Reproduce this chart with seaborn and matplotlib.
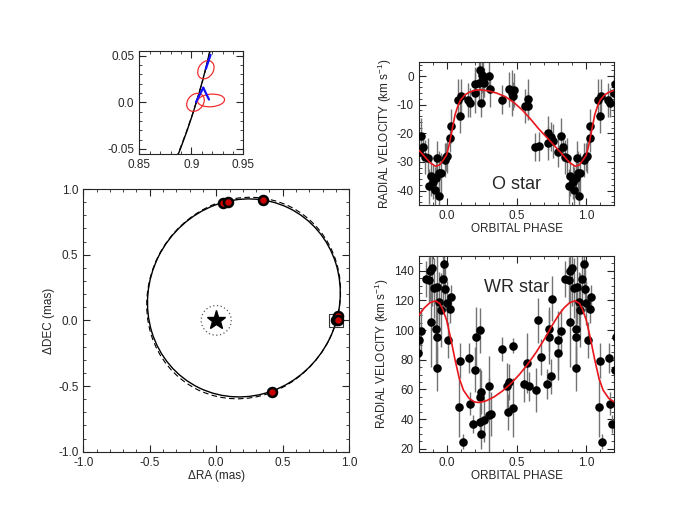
import numpy as np
import pandas as pd
import seaborn as sns
import matplotlib
matplotlib.use('Agg')
import matplotlib.pyplot as plt
from matplotlib.patches import Ellipse, Circle, Rectangle
from matplotlib.ticker import MultipleLocator

# astrometric positions of the companion (mas)
ast_ra = [0.048, 0.088, 0.349, 0.419, 0.904, 0.914, 0.919]
ast_dec = [0.89, 0.90, 0.92, -0.545, 0.0, 0.035, 0.002]

# visual orbit fits: centre x, centre y, major, minor, angle
orbit_solid = [0.208, 0.171, 1.526, 1.431, 63.8]
orbit_dashed = [0.206, 0.170, 1.558, 1.433, 63.8]
resolution_radius = 0.113

# zoomed box and error ellipses
box_ra = [0.85, 0.95]
box_dec = [-0.05, 0.05]
ell_ra = [0.914, 0.904, 0.919]
ell_dec = [0.035, 0.0, 0.002]
ell_w = [0.0205, 0.0205, 0.026]
ell_h = [0.0145, 0.0155, 0.0135]
ell_ang = [65, 60, 5]
res_ra0 = [0.9185, 0.9115, 0.9115]
res_dec0 = [0.051, 0.0157, 0.0157]
res_ra1 = [0.914, 0.9045, 0.917]
res_dec1 = [0.036, 0.0003, 0.003]

# O star radial velocities (phase, km/s, error)
o_phase = [0.815, 0.83, 0.844, 0.863, 0.874, 0.886, 0.905, 0.915, 0.924, 0.934,
           0.943, 0.948, 0.957, 0.986, 0.995, 0.005, 0.024, 0.028, 0.08, 0.095,
           0.104, 0.154, 0.17, 0.2, 0.204, 0.232, 0.24, 0.246, 0.251, 0.26,
           0.27, 0.3, 0.313, 0.396, 0.443, 0.467, 0.479, 0.474, 0.562, 0.585,
           0.585, 0.635, 0.659, 0.727, 0.744, 0.727, 0.758, 0.8]
o_rv = [-20.8, -24.8, -28.2, -28.6, -38.5, -35.0, -37.0, -39.6, -35.5, -28.7,
        -34.0, -42.0, -33.8, -29.2, -28.2, -27.8, -21.6, -17.5, -8.2, -14.0,
        -7.0, -8.4, -9.3, -5.8, -2.9, -2.3, 2.0, -9.3, 0.2, -1.2,
        -2.3, 0.0, -4.7, -8.2, -4.7, -5.8, -4.9, -7.0, -10.5, -7.9,
        -10.5, -24.8, -24.5, -19.8, -21.2, -23.3, -22.7, -26.6]
o_err = [6, 5, 6, 7, 6, 7, 6, 8, 7, 6,
         8, 6, 7, 6, 5, 6, 5, 6, 7, 6,
         6, 6, 5, 7, 6, 8, 7, 5, 6, 7,
         5, 6, 6, 5, 6, 8, 6, 5, 6, 7,
         5, 5, 5, 6, 5, 6, 6, 5]
o_model_phase = [0.0, 0.02, 0.04, 0.06, 0.08, 0.10, 0.13, 0.16, 0.20, 0.24, 0.30,
                 0.36, 0.42, 0.48, 0.54, 0.60, 0.66, 0.72, 0.78, 0.84, 0.88,
                 0.92, 0.95, 0.98]
o_model_rv = [-27.5, -23.5, -18.5, -13.5, -10.5, -8.3, -6.6, -5.7, -5.0, -4.8, -5.2,
              -6.0, -7.2, -9.2, -11.8, -15.0, -18.5, -21.6, -24.8, -28.0, -30.2,
              -31.5, -31.0, -29.0]

# WR star radial velocities
wr_phase = [0.796, 0.8, 0.815, 0.85, 0.874, 0.882, 0.896, 0.886, 0.91, 0.924,
            0.929, 0.929, 0.934, 0.948, 0.957, 0.972, 0.981, 0.991, 0.0, 0.009,
            0.024, 0.033, 0.088, 0.095, 0.114, 0.159, 0.17, 0.185, 0.204, 0.209,
            0.237, 0.242, 0.246, 0.242, 0.246, 0.27, 0.3, 0.303, 0.318, 0.393,
            0.431, 0.445, 0.44, 0.474, 0.474, 0.555, 0.573, 0.588, 0.64, 0.652,
            0.678, 0.72, 0.73, 0.73, 0.749, 0.754]
wr_rv = [84.6, 93.2, 99.5, 134.4, 134.1, 139.8, 141.6, 105.4, 128.5, 100.5,
         95.5, 74.2, 129.0, 119.0, 113.3, 134.4, 144.3, 128.0, 118.3, 93.2,
         114.5, 122.4, 48.0, 79.4, 24.7, 81.2, 50.5, 36.5, 73.3, 95.5,
         99.8, 54.6, 58.4, 38.1, 29.7, 39.4, 62.5, 42.6, 43.5, 87.3,
         62.5, 65.2, 44.9, 47.8, 89.6, 63.4, 77.9, 62.0, 59.8, 106.6,
         81.7, 63.8, 95.3, 100.9, 68.8, 121.2]
wr_err = [18, 20, 15, 12, 15, 20, 25, 30, 20, 25,
          20, 15, 25, 20, 25, 20, 20, 15, 15, 12,
          10, 8, 20, 12, 5, 10, 8, 6, 15, 20,
          15, 20, 15, 10, 10, 15, 20, 25, 15, 8,
          15, 12, 12, 20, 5, 12, 20, 10, 15, 15,
          12, 10, 18, 15, 12, 15]
wr_model_phase = [0.0, 0.03, 0.06, 0.09, 0.12, 0.16, 0.20, 0.23, 0.28, 0.34, 0.40,
                  0.46, 0.52, 0.58, 0.64, 0.70, 0.76, 0.80, 0.84, 0.88, 0.92,
                  0.95, 0.97]
wr_model_rv = [106.6, 94.0, 80.0, 67.5, 59.5, 54.0, 51.5, 51.2, 52.2, 55.0, 59.0,
               64.0, 70.0, 77.0, 85.0, 94.0, 104.0, 110.0, 115.0, 118.5, 119.8,
               118.0, 114.5]

PHASE_LIM = (-0.2, 1.2)


def tile(phase, values, extra=None):
    # repeat one cycle at phase-1, phase, phase+1 so the plot covers -0.2..1.2
    frames = []
    for shift in (-1, 0, 1):
        d = pd.DataFrame({"phase": np.array(phase) + shift, "rv": values})
        if extra is not None:
            d["err"] = extra
        frames.append(d)
    df = pd.concat(frames, ignore_index=True)
    return df[(df.phase >= PHASE_LIM[0] - 0.05) & (df.phase <= PHASE_LIM[1] + 0.05)]


def style_axis(ax):
    ax.tick_params(which="both", direction="in", top=True, right=True, labelsize=8.5)
    ax.tick_params(which="major", length=5, width=0.8)
    ax.tick_params(which="minor", length=2.5, width=0.6)
    for s in ax.spines.values():
        s.set_linewidth(0.8)
        s.set_color("0.15")


def rv_panel(ax, df_obs, df_mod, ylim, ymajor, yminor, label, label_y):
    ax.errorbar(df_obs.phase, df_obs.rv, yerr=df_obs.err, fmt="none",
                ecolor="0.45", elinewidth=1.0, capsize=0, zorder=1)
    sns.scatterplot(data=df_obs, x="phase", y="rv", ax=ax, color="black",
                    s=38, edgecolor="black", linewidth=0, zorder=3)
    sns.lineplot(data=df_mod.sort_values("phase"), x="phase", y="rv", ax=ax,
                 color="#e8151b", lw=1.2, sort=False, estimator=None, zorder=4)
    ax.set_xlim(*PHASE_LIM)
    ax.set_ylim(*ylim)
    ax.xaxis.set_minor_locator(MultipleLocator(0.1))
    ax.yaxis.set_major_locator(MultipleLocator(ymajor))
    ax.yaxis.set_minor_locator(MultipleLocator(yminor))
    ax.set_xticks([0.0, 0.5, 1.0], ["0.0", "0.5", "1.0"])
    ax.set_xlabel("ORBITAL PHASE", fontsize=8.5, labelpad=1)
    ax.set_ylabel("RADIAL VELOCITY (km s$^{\\mathregular{-1}}$)", fontsize=8.5, labelpad=2)
    ax.text(0.5, label_y, label, ha="center", va="center", fontsize=13)
    style_axis(ax)


def orbit_patches(ax, lw):
    cx, cy, w, h, a = orbit_solid
    ax.add_patch(Ellipse((cx, cy), w, h, angle=a, fill=False, color="black", lw=lw))
    cx, cy, w, h, a = orbit_dashed
    ax.add_patch(Ellipse((cx, cy), w, h, angle=a, fill=False, color="black",
                         lw=lw * 0.8, ls=(0, (5, 3))))


def main():
    sns.set_style("ticks")
    plt.rcParams["font.family"] = ["Liberation Sans", "DejaVu Sans"]
    plt.rcParams["mathtext.fontset"] = "custom"
    plt.rcParams["mathtext.rm"] = "Liberation Sans"
    plt.rcParams["axes.unicode_minus"] = False

    fig = plt.figure(figsize=(6.98, 5.14), dpi=100)
    ax_orb = fig.add_axes([0.1193, 0.1212, 0.381, 0.511])
    ax_ins = fig.add_axes([0.1996, 0.7004, 0.149, 0.201])
    ax_o = fig.add_axes([0.5999, 0.6012, 0.2802, 0.2788])
    ax_wr = fig.add_axes([0.5999, 0.1212, 0.2802, 0.3807])

    # main orbit
    orbit_patches(ax_orb, 1.0)
    ax_orb.add_patch(Circle((0, 0), resolution_radius, fill=False, color="0.35",
                            lw=0.9, ls=(0, (1, 2))))
    ax_orb.add_patch(Rectangle((box_ra[0], box_dec[0]), box_ra[1] - box_ra[0],
                               box_dec[1] - box_dec[0], fill=False, color="0.2", lw=0.8))
    ax_orb.plot([0], [0], marker="*", color="black", markersize=14, ls="none")
    ast = pd.DataFrame({"ra": ast_ra, "dec": ast_dec})
    sns.scatterplot(data=ast, x="ra", y="dec", ax=ax_orb, color="#c80000", s=42,
                    edgecolor="black", linewidth=1.8, zorder=5)
    ax_orb.set_xlim(-1.0, 1.0)
    ax_orb.set_ylim(-1.0, 1.0)
    ticks = [-1.0, -0.5, 0.0, 0.5, 1.0]
    labels = ["-1.0", "-0.5", "0.0", "0.5", "1.0"]
    ax_orb.set_xticks(ticks, labels)
    ax_orb.set_yticks(ticks, labels)
    ax_orb.xaxis.set_minor_locator(MultipleLocator(0.1))
    ax_orb.yaxis.set_minor_locator(MultipleLocator(0.1))
    ax_orb.set_xlabel("\u0394RA (mas)", fontsize=8.5, labelpad=1)
    ax_orb.set_ylabel("\u0394DEC (mas)", fontsize=8.5, labelpad=2)
    style_axis(ax_orb)

    # inset zoom on the square
    orbit_patches(ax_ins, 1.0)
    for x, y, w, h, a in zip(ell_ra, ell_dec, ell_w, ell_h, ell_ang):
        ax_ins.add_patch(Ellipse((x, y), w, h, angle=a, fill=False,
                                 color="#f03030", lw=0.9))
    for x0, y0, x1, y1 in zip(res_ra0, res_dec0, res_ra1, res_dec1):
        ax_ins.plot([x0, x1], [y0, y1], color="#1010ff", lw=1.6)
    ax_ins.set_xlim(0.85, 0.95)
    ax_ins.set_ylim(-0.0555, 0.0555)
    ax_ins.set_xticks([0.85, 0.9, 0.95], ["0.85", "0.9", "0.95"])
    ax_ins.set_yticks([-0.05, 0.0, 0.05], ["-0.05", "0.0", "0.05"])
    ax_ins.xaxis.set_minor_locator(MultipleLocator(0.01))
    ax_ins.yaxis.set_minor_locator(MultipleLocator(0.01))
    style_axis(ax_ins)

    # radial velocity curves
    rv_panel(ax_o, tile(o_phase, o_rv, o_err), tile(o_model_phase, o_model_rv),
             (-45, 5), 10, 2, "O star", -38)
    rv_panel(ax_wr, tile(wr_phase, wr_rv, wr_err), tile(wr_model_phase, wr_model_rv),
             (18, 150), 20, 5, "WR star", 128.5)

    fig.savefig("out.png", dpi=100)
    plt.close(fig)


if __name__ == "__main__":
    main()
